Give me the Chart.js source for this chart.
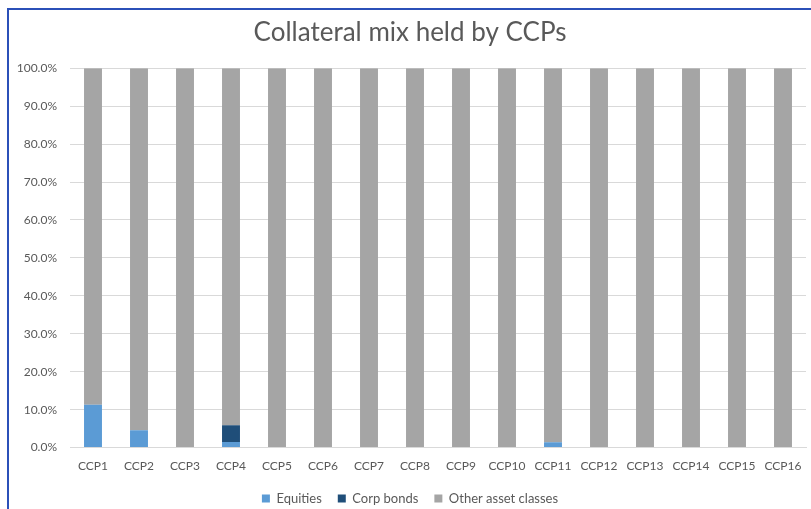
<!DOCTYPE html>
<html>
<head>
<meta charset="utf-8">
<script src="https://cdn.jsdelivr.net/npm/chart.js@4"></script>
<style>
  body { margin: 0; background: #fff; }
  #box {
    position: absolute; left: 7px; top: 8px;
    width: 804px; height: 501px;
    border-top: 2px solid #2b50b8; border-left: 2px solid #2b50b8;
  }
  #box canvas { display: block; }
</style>
</head>
<body>
<div id="box"><canvas id="chart-ccp" width="802" height="499"></canvas></div>
<script>
var categories = ["CCP1", "CCP2", "CCP3", "CCP4", "CCP5", "CCP6", "CCP7", "CCP8",
                  "CCP9", "CCP10", "CCP11", "CCP12", "CCP13", "CCP14", "CCP15", "CCP16"];
var equities  = [11.3, 4.6, 0, 1.5, 0, 0, 0, 0, 0, 0, 1.4, 0, 0, 0, 0, 0];
var corpBonds = [0, 0, 0, 4.4, 0, 0, 0, 0, 0, 0, 0, 0, 0, 0, 0, 0];
var otherAssets = [88.7, 95.4, 100, 94.1, 100, 100, 100, 100, 100, 100, 98.6, 100, 100, 100, 100, 100];
var yTicks = [0, 10, 20, 30, 40, 50, 60, 70, 80, 90, 100];

var font = "Lato, 'Open Sans', sans-serif";
var textGrey = "#595959";

var ctx = document.getElementById("chart-ccp").getContext("2d");
new Chart(ctx, {
  type: "bar",
  data: {
    labels: categories,
    datasets: [{
      label: "Equities",
      data: equities,
      backgroundColor: "#5b9bd5"
    }, {
      label: "Corp bonds",
      data: corpBonds,
      backgroundColor: "#1f4e79"
    }, {
      label: "Other asset classes",
      data: otherAssets,
      backgroundColor: "#a5a5a5"
    }]
  },
  options: {
    responsive: false,
    animation: false,
    datasets: {
      bar: { barPercentage: 0.39, categoryPercentage: 1, borderWidth: 0 }
    },
    layout: { padding: { left: 5, right: 5, top: 0, bottom: -6 } },
    plugins: {
      title: {
        display: true,
        text: "Collateral mix held by CCPs",
        color: textGrey,
        font: { family: font, size: 26, weight: "normal" },
        padding: { top: 7, bottom: 20 }
      },
      legend: {
        position: "bottom",
        labels: {
          boxWidth: 8, boxHeight: 8,
          color: textGrey,
          padding: 16,
          font: { family: font, size: 13 }
        }
      },
      tooltip: { enabled: false }
    },
    scales: {
      x: {
        stacked: true,
        grid: { display: false },
        border: { color: "#d9d9d9" },
        ticks: { color: textGrey, padding: 3, font: { family: font, size: 12 }, maxRotation: 0 }
      },
      y: {
        stacked: true,
        min: 0, max: 100,
        afterFit: function (scale) { scale.width = 56; },
        afterBuildTicks: function (scale) {
          scale.ticks = yTicks.map(function (v) { return { value: v }; });
        },
        grid: { color: "#d9d9d9", drawTicks: false },
        border: { display: false },
        ticks: {
          color: textGrey, padding: 13,
          font: { family: font, size: 12 },
          callback: function (v) { return v.toFixed(1) + "%"; }
        }
      }
    }
  }
});
</script>
</body>
</html>
